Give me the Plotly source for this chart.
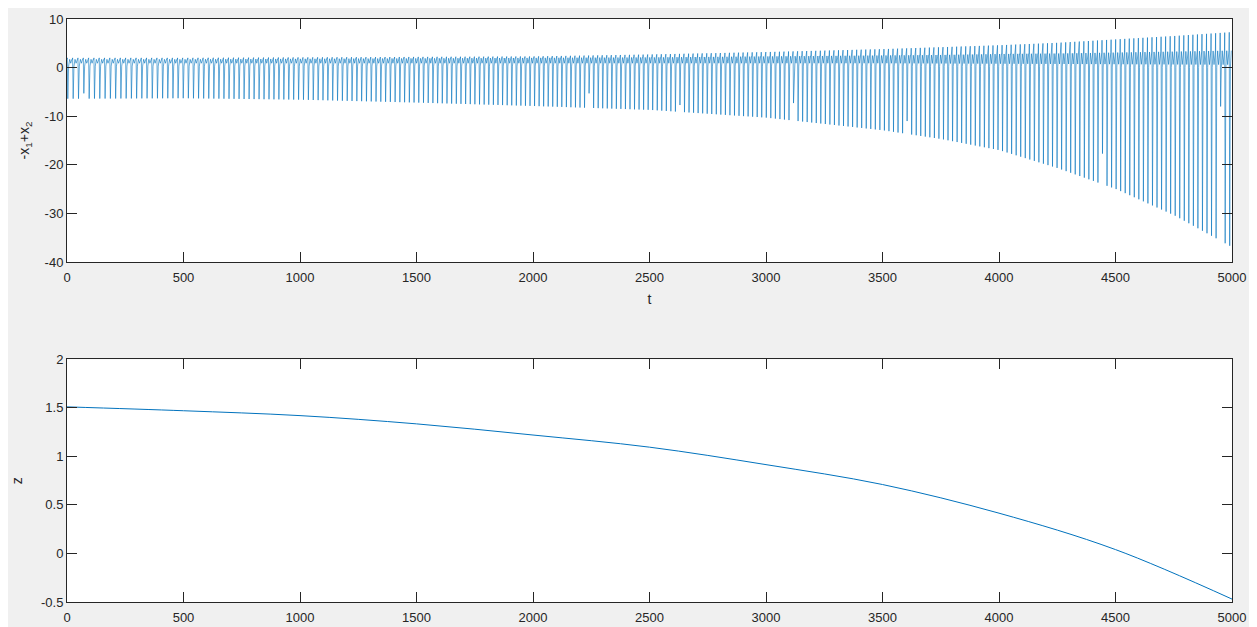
import numpy as np
import plotly.graph_objects as go

# ---- data ----
env_t = [0, 500, 1000, 1500, 2000, 2500, 3000, 3500, 3750, 4000, 4250, 4500, 4750, 5000]
low_env = [-6.4, -6.3, -6.6, -7.2, -7.9, -8.7, -10.3, -12.9, -14.7, -17.0, -20.7, -25.0, -30.4, -37.0]
high_env = [2.0, 2.0, 2.1, 2.2, 2.3, 2.7, 3.2, 3.8, 4.2, 4.6, 5.1, 5.8, 6.5, 7.3]
base_hi = [1.7, 1.7, 1.8, 1.9, 2.0, 2.1, 2.3, 2.5, 2.6, 2.8, 2.9, 3.1, 3.3, 3.5]
base_lo = [0.3, 0.3, 0.3, 0.3, 0.3, 0.3, 0.3, 0.3, 0.25, 0.2, 0.15, 0.1, 0.05, 0.0]
period_t = [0, 1000, 2000, 5000]
period_v = [23.0, 21.0, 19.5, 19.5]
partial_t = [75, 2240, 2630, 3120, 3600, 4450, 4950]
partial_low = [-5.3, -5.3, -7.7, -7.3, -11.0, -17.7, -8.0]

z_t = [0, 500, 1000, 1500, 2000, 2500, 3000, 3500, 4000, 4500, 5000]
z_v = [1.51, 1.47, 1.42, 1.335, 1.22, 1.095, 0.915, 0.71, 0.415, 0.04, -0.47]

x_ticks = [0, 500, 1000, 1500, 2000, 2500, 3000, 3500, 4000, 4500, 5000]
y1_ticks = [-40, -30, -20, -10, 0, 10]
y2_ticks = [-0.5, 0, 0.5, 1, 1.5, 2]

# ---- build spike path from the read envelopes ----
tx, ty = [], []
s = 0.0
while s < 5000:
    P = float(np.interp(s, period_t, period_v))
    lo = float(np.interp(s, env_t, low_env))
    hi = float(np.interp(s, env_t, high_env))
    bh = float(np.interp(s, env_t, base_hi))
    bl = float(np.interp(s, env_t, base_lo))
    for pt, pl in zip(partial_t, partial_low):
        if abs(s - pt) < P / 2:
            lo = pl
    offs = [0.0, 0.05, 0.15, 0.3, 0.5, 0.7, 0.9]
    vals = [bh, hi, lo, bl, bh, bl + 0.6, bh]
    for o, v in zip(offs, vals):
        t = s + o * P
        if t <= 5000:
            tx.append(t)
            ty.append(v)
    s += P

fig = go.Figure()
fig.add_trace(go.Scatter(x=tx, y=ty, mode="lines",
                         line=dict(color="#0072BD", width=0.6),
                         xaxis="x", yaxis="y", showlegend=False))
fig.add_trace(go.Scatter(x=z_t, y=z_v, mode="lines",
                         line=dict(color="#0072BD", width=1, shape="spline"),
                         xaxis="x2", yaxis="y2", showlegend=False))

axis_common = dict(showline=True, linecolor="#262626", linewidth=1,
                   mirror="ticks", ticks="inside", ticklen=10,
                   tickcolor="#262626", showgrid=False, zeroline=False,
                   automargin=False,
                   tickfont=dict(family="Liberation Sans, Arial", size=13, color="#262626"))

top_dom = [(602 - 262) / 583, 1.0]
bot_dom = [0.0, (602 - 359.3) / 583]

fig.update_layout(
    width=1249, height=619,
    paper_bgcolor="#f0f0f0", plot_bgcolor="#ffffff",
    margin=dict(l=59, r=25, t=11, b=25, autoexpand=False),
    font=dict(family="Liberation Sans, Arial", size=13, color="#262626"),
    xaxis=dict(domain=[0, 1], anchor="y", range=[0, 5000],
               tickvals=x_ticks, ticktext=[str(v) for v in x_ticks],
               ticklabelstandoff=3,
               title=dict(text="t", standoff=10, font=dict(size=14)), **axis_common),
    yaxis=dict(domain=top_dom, anchor="x", range=[-40, 10],
               tickvals=y1_ticks, ticktext=[str(v) for v in y1_ticks],
               title=dict(text="-x<sub>1</sub>+x<sub>2</sub>", standoff=11, font=dict(size=14)),
               **axis_common),
    xaxis2=dict(domain=[0, 1], anchor="y2", range=[0, 5000],
                tickvals=x_ticks, ticktext=[str(v) for v in x_ticks],
                ticklabelstandoff=3, **axis_common),
    yaxis2=dict(domain=bot_dom, anchor="x2", range=[-0.5, 2],
                tickvals=y2_ticks, ticktext=["-0.5", "0", "0.5", "1", "1.5", "2"],
                title=dict(text="z", standoff=15, font=dict(size=14)),
                **axis_common),
)

fig.write_html("out.html")
